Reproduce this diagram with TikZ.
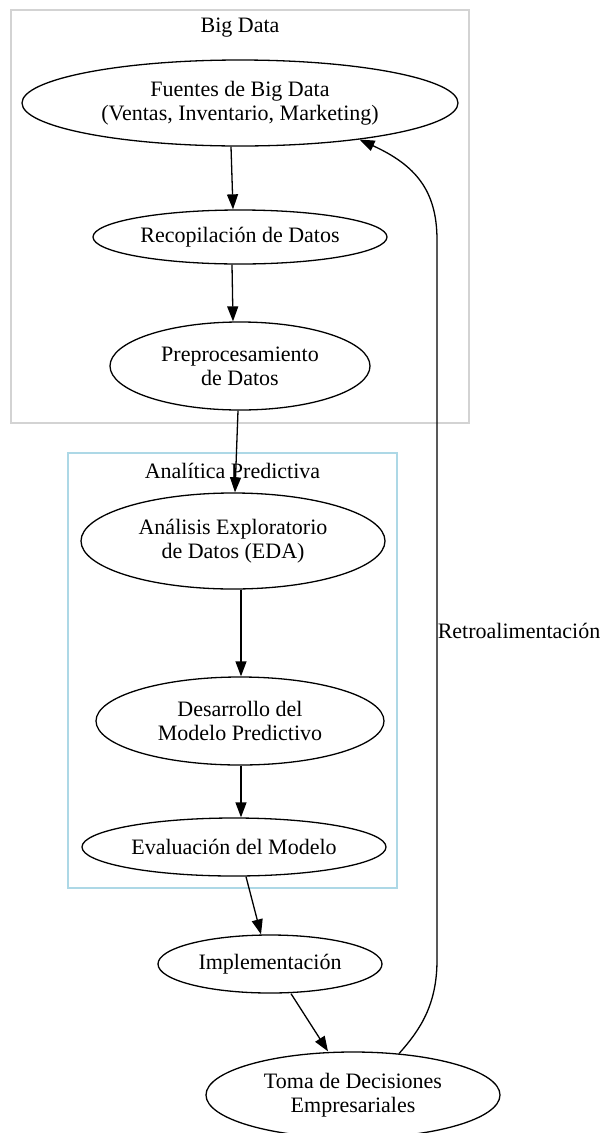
\documentclass[tikz,border=0pt]{standalone}
\usepackage{fontspec}
\setmainfont{Liberation Serif}
\usetikzlibrary{arrows.meta,shapes.geometric}
\definecolor{LightBlue}{HTML}{ADD8E6}
\definecolor{LightGray}{HTML}{D3D3D3}
\newcommand{\drawcluster}[7]{% Parameters: name, color, x1, y1, x2, y2, label
  \draw[draw=#2,line width=1.2pt] (#3,#4) rectangle (#5,#6);
  \node (#1) at ({(#3+#5)/2},#4+18) {#7};
}
\newcommand{\drawstage}[6]{% Parameters: name, x, y, half width, half height, label
  \node[stage,minimum width=2*#4,minimum height=2*#5] (#1) at (#2,#3) {#6};
}
\begin{document}
\begin{tikzpicture}[x=1pt,y=-1pt,font=\fontsize{22}{24}\selectfont,
    stage/.style={ellipse,draw=black,line width=1.3pt,inner sep=0pt,align=center},
    edge/.style={draw=black,line width=1.3pt,-{Triangle[length=15pt,width=11pt]}}]
    \useasboundingbox (0,0) rectangle (601,1133);
    \drawcluster{bigdata}{LightGray}{11}{10}{469}{423}{Big Data}
    \drawcluster{analitica}{LightBlue}{68}{453}{397}{888}{Analítica Predictiva}
    \drawstage{fuentes}{240}{103}{218}{43}{Fuentes de Big Data\\(Ventas, Inventario, Marketing)}
    \drawstage{recop}{240}{237}{147}{27}{Recopilación de Datos}
    \drawstage{prepro}{240}{366}{130}{44}{Preprocesamiento\\de Datos}
    \drawstage{analisis}{233}{541}{152}{48}{Análisis Exploratorio\\de Datos (EDA)}
    \drawstage{desarrollo}{240}{721}{144}{44}{Desarrollo del\\Modelo Predictivo}
    \drawstage{evaluacion}{234}{847}{152}{29}{Evaluación del Modelo}
    \drawstage{impl}{270}{964}{112}{29}{Implementación}
    \drawstage{toma}{353}{1095}{147}{43}{Toma de Decisiones\\Empresariales}
    % main flow
    \draw[edge] ([xshift=-9pt]fuentes.south) -- ([xshift=-7pt]recop.north);
    \draw[edge] ([xshift=-8pt]recop.south) -- ([xshift=-7pt]prepro.north);
    \draw[edge] ([xshift=-2pt]prepro.south) -- ([xshift=2pt]analisis.north);
    \draw[edge] ([xshift=8pt]analisis.south) -- ([xshift=1pt]desarrollo.north);
    \draw[edge] ([xshift=1pt]desarrollo.south) -- ([xshift=7pt]evaluacion.north);
    \draw[edge] ([xshift=12pt]evaluacion.south) -- ([xshift=-9pt]impl.north);
    \draw[edge] ([xshift=21pt]impl.south) -- ([xshift=-25pt]toma.north);
    % feedback loop
    \coordinate (fbbot) at (437,960);
    \coordinate (fbtop) at (437,240);
    \draw[edge] (toma.42) .. controls (420,1030) and (437,1005) .. (fbbot) -- (fbtop)
      .. controls (437,190) and (415,165) .. (fuentes.-17);
    \node (fblabel) at (519,631) {Retroalimentación};
\end{tikzpicture}
\end{document}
